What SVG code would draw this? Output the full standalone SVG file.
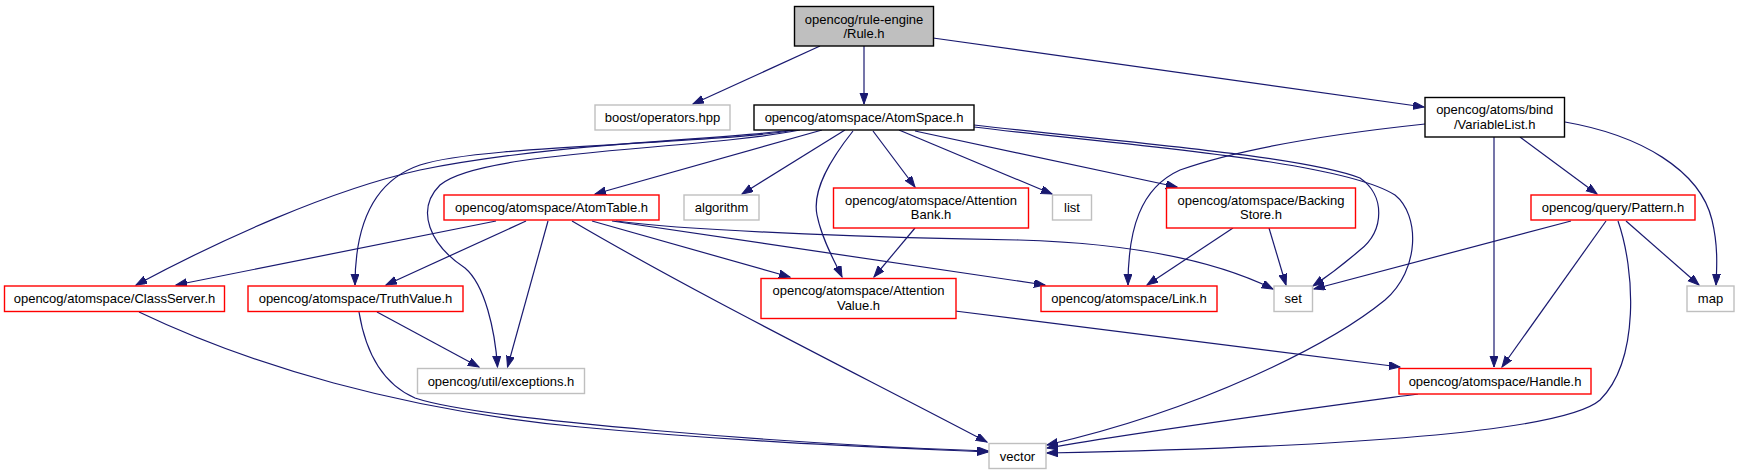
<svg xmlns="http://www.w3.org/2000/svg" width="1739" height="475" viewBox="0 0 1739 475">
<style>
.n rect{fill:#fff;stroke-width:1.4}
.blk rect{stroke:#000}
.red rect{stroke:#ff0000}
.gry rect{stroke:#bfbfbf}
.cur rect{fill:#bfbfbf;stroke:#000}
text{font-family:"Liberation Sans",Arial,sans-serif;font-size:13px;fill:#000;text-anchor:middle}
.e path{fill:none;stroke:#191970;stroke-width:1.2;marker-end:url(#ah)}
</style>
<defs>
<marker id="ah" markerUnits="userSpaceOnUse" markerWidth="12" markerHeight="9" refX="11" refY="4" orient="auto">
<path d="M0,0 L11,4 L0,8 z" fill="#191970" stroke="#191970" stroke-width="1"/>
</marker>
</defs>
<rect width="1739" height="475" fill="#fff"/>
<g id="edges" class="e">
<path d="M820,46 L693,104"/>
<path d="M864,46 L864,104"/>
<path d="M933,38 L1424,107"/>
<path d="M792,130 C720,140 560,142 420,170 C330,190 220,240 136,285"/>
<path d="M796,130 C700,145 480,145 420,165 C370,182 355,230 355,285"/>
<path d="M800,130 C700,150 480,150 440,185 C415,210 430,245 465,268 C485,285 495,330 497.5,367"/>
<path d="M822,130 L595,194"/>
<path d="M845,130 L742,194"/>
<path d="M853,131 C830,160 812,190 817,215 C822,240 835,262 842,277"/>
<path d="M873,131 L915,187"/>
<path d="M899,130 L1052,194"/>
<path d="M915,131 L1177,187"/>
<path d="M974,125 C1100,140 1300,155 1360,178 C1385,195 1385,230 1360,250 C1345,263 1325,278 1313,286"/>
<path d="M974,127 C1120,145 1340,160 1395,195 C1420,215 1420,270 1385,300 C1330,345 1200,410 1047,445"/>
<path d="M496,221 L176,285"/>
<path d="M526,221 L386,285"/>
<path d="M548,221 L507.5,367"/>
<path d="M572,221 C700,296 850,370 987,442"/>
<path d="M592,221 L790,277"/>
<path d="M612,221 L1045,285"/>
<path d="M616,221 C700,232 900,238 1019,240 C1120,243 1210,258 1273,289"/>
<path d="M915,228 L874,277"/>
<path d="M1233,228 L1147,285"/>
<path d="M1269,228 L1286,285"/>
<path d="M1425,124 C1350,132 1250,145 1180,170 C1140,188 1128,230 1128,285"/>
<path d="M1494,137 L1494,367"/>
<path d="M1520,137 L1597,194"/>
<path d="M1565,122 C1640,135 1700,170 1712,220 C1718,245 1717,265 1716,285"/>
<path d="M1571,221 L1314,289"/>
<path d="M1606,221 L1502,367"/>
<path d="M1626,221 L1699,285"/>
<path d="M1618,221 C1635,270 1640,360 1600,400 C1560,435 1300,448 1047,453"/>
<path d="M1418,394 C1300,410 1150,430 1047,448"/>
<path d="M955,311 L1400,367"/>
<path d="M139,312 C250,365 400,410 580,427 C750,443 900,448 988,452"/>
<path d="M359,312 C366,355 385,385 415,398 C480,420 800,445 988,451"/>
<path d="M377,312 L479,367"/>
</g>
<g id="rule" class="n cur"><rect x="794.5" y="6.5" width="139" height="39.5"/><text x="864" y="23.5">opencog/rule-engine</text><text x="864" y="38">/Rule.h</text></g>
<g id="boost" class="n gry"><rect x="595" y="105" width="135" height="25"/><text x="662.5" y="122">boost/operators.hpp</text></g>
<g id="atomspace" class="n blk"><rect x="754" y="105" width="220" height="25"/><text x="864" y="122">opencog/atomspace/AtomSpace.h</text></g>
<g id="atomtable" class="n red"><rect x="444" y="195" width="215" height="25"/><text x="551.5" y="212">opencog/atomspace/AtomTable.h</text></g>
<g id="algorithm" class="n gry"><rect x="684" y="195" width="75" height="25"/><text x="721.5" y="212">algorithm</text></g>
<g id="attentionbank" class="n red"><rect x="833.5" y="188" width="195" height="40"/><text x="931" y="204.5">opencog/atomspace/Attention</text><text x="931" y="219">Bank.h</text></g>
<g id="list" class="n gry"><rect x="1052.5" y="195" width="39" height="25"/><text x="1072" y="212">list</text></g>
<g id="backingstore" class="n red"><rect x="1166.5" y="188" width="189" height="40"/><text x="1261" y="204.5">opencog/atomspace/Backing</text><text x="1261" y="219">Store.h</text></g>
<g id="variablelist" class="n blk"><rect x="1425" y="97.5" width="139.5" height="39.5"/><text x="1494.7" y="114">opencog/atoms/bind</text><text x="1494.7" y="128.5">/VariableList.h</text></g>
<g id="pattern" class="n red"><rect x="1531" y="195" width="164" height="25"/><text x="1613" y="212">opencog/query/Pattern.h</text></g>
<g id="classserver" class="n red"><rect x="4.5" y="286" width="220" height="25.5"/><text x="114.5" y="303">opencog/atomspace/ClassServer.h</text></g>
<g id="truthvalue" class="n red"><rect x="248" y="286" width="215" height="25.5"/><text x="355.5" y="303">opencog/atomspace/TruthValue.h</text></g>
<g id="exceptions" class="n gry"><rect x="417.5" y="368.5" width="167" height="25"/><text x="501" y="385.5">opencog/util/exceptions.h</text></g>
<g id="attentionvalue" class="n red"><rect x="761" y="278.5" width="195" height="40"/><text x="858.5" y="295">opencog/atomspace/Attention</text><text x="858.5" y="309.5">Value.h</text></g>
<g id="link" class="n red"><rect x="1041" y="286" width="176" height="25.5"/><text x="1129" y="303">opencog/atomspace/Link.h</text></g>
<g id="set" class="n gry"><rect x="1274" y="286" width="38.5" height="25.5"/><text x="1293.2" y="303">set</text></g>
<g id="map" class="n gry"><rect x="1687" y="286" width="47" height="25.5"/><text x="1710.5" y="303">map</text></g>
<g id="handle" class="n red"><rect x="1399" y="368.5" width="192" height="25.5"/><text x="1495" y="385.5">opencog/atomspace/Handle.h</text></g>
<g id="vector" class="n gry"><rect x="989" y="443.5" width="57" height="25"/><text x="1017.5" y="460.5">vector</text></g>
</svg>
